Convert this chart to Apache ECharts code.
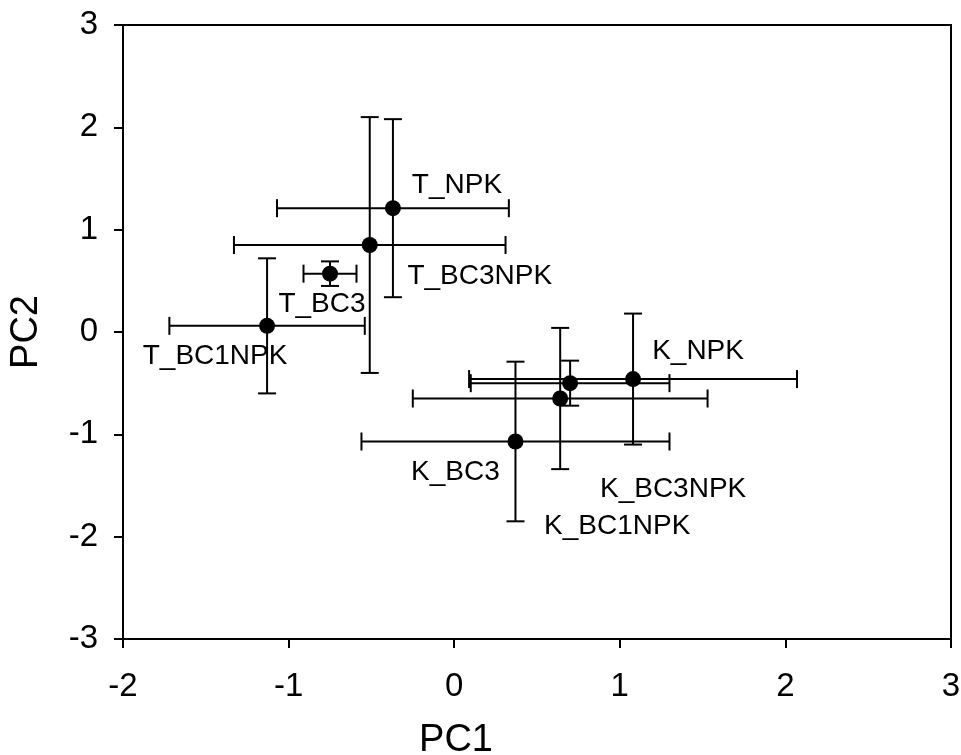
<!DOCTYPE html>
<html>
<head>
<meta charset="utf-8">
<script src="https://cdn.jsdelivr.net/npm/echarts@6/dist/echarts.min.js"></script>
<style>
  html, body { margin: 0; padding: 0; background: #fff; }
  #chart { width: 961px; height: 755px; }
</style>
</head>
<body>
<div id="chart"></div>
<script>
// treatment names
const names = ["T_NPK", "T_BC3NPK", "T_BC3", "T_BC1NPK", "K_NPK", "K_BC3NPK", "K_BC1NPK", "K_BC3"];
// means
const pc1 = [-0.37, -0.51, -0.75, -1.13, 1.08, 0.70, 0.64, 0.37];
const pc2 = [1.21, 0.85, 0.57, 0.06, -0.46, -0.50, -0.65, -1.07];
// error (+/-)
const pc1Err = [0.70, 0.82, 0.16, 0.59, 0.99, 0.60, 0.89, 0.93];
const pc2Err = [0.87, 1.25, 0.12, 0.66, 0.64, 0.22, 0.69, 0.78];
// axis ticks
const xTicks = [-2, -1, 0, 1, 2, 3];
const yTicks = [-3, -2, -1, 0, 1, 2, 3];

// label offsets (px, from point centre)
const labelOffsets = [[64, -23], [110, 31], [-8, 31], [-52, 30], [65, -28], [103, 106], [57, 128], [-60, 31]];

const font = "'Liberation Sans', Arial, sans-serif";
const chart = echarts.init(document.getElementById("chart"));

const errData = names.map((n, i) => [pc1[i], pc2[i], pc1Err[i], pc2Err[i]]);
const ptData = names.map((n, i) => ({ value: [pc1[i], pc2[i]], name: n }));

function renderErr(params, api) {
  const x = api.value(0), y = api.value(1), ex = api.value(2), ey = api.value(3);
  const l = api.coord([x - ex, y]);
  const r = api.coord([x + ex, y]);
  const t = api.coord([x, y + ey]);
  const b = api.coord([x, y - ey]);
  const c = 9; // cap half size
  const st = { stroke: "#000", lineWidth: 2 };
  const line = (x1, y1, x2, y2) => ({ type: "line", shape: { x1, y1, x2, y2 }, style: st });
  return {
    type: "group",
    children: [
      line(l[0], l[1], r[0], r[1]),
      line(l[0], l[1] - c, l[0], l[1] + c),
      line(r[0], r[1] - c, r[0], r[1] + c),
      line(t[0], t[1], b[0], b[1]),
      line(t[0] - c, t[1], t[0] + c, t[1]),
      line(b[0] - c, b[1], b[0] + c, b[1]),
    ],
  };
}

const option = {
  animation: false,
  grid: {
    left: 123, right: 10, top: 25, bottom: 116,
    outerBoundsMode: "none",
    containLabel: false,
    show: true, borderColor: "#000", borderWidth: 2,
  },
  xAxis: {
    type: "value", min: -2, max: 3, interval: 1,
    name: "PC1", nameLocation: "middle", nameGap: 83,
    // title sits left of the axis centre in the original
    nameTextStyle: { fontFamily: font, fontSize: 38, color: "#000", padding: [0, 162, 0, 0] },
    axisLine: { onZero: false, lineStyle: { color: "#000", width: 2 } },
    axisTick: { show: true, length: 9, lineStyle: { color: "#000", width: 2 } },
    axisLabel: {
      fontFamily: font, fontSize: 33, color: "#000", margin: 31,
      formatter: (v) => (xTicks.includes(v) ? String(v) : ""),
    },
    splitLine: { show: false },
  },
  yAxis: {
    type: "value", min: -3, max: 3, interval: 1,
    name: "PC2", nameLocation: "middle", nameGap: 77,
    nameTextStyle: { fontFamily: font, fontSize: 38, color: "#000" },
    axisLine: { onZero: false, lineStyle: { color: "#000", width: 2 } },
    axisTick: { show: true, length: 9, lineStyle: { color: "#000", width: 2 } },
    axisLabel: {
      fontFamily: font, fontSize: 33, color: "#000", margin: 25,
      formatter: (v) => (yTicks.includes(v) ? String(v) : ""),
    },
    splitLine: { show: false },
  },
  series: [
    {
      type: "custom",
      renderItem: renderErr,
      data: errData,
      z: 2,
      silent: true,
    },
    {
      type: "scatter",
      data: ptData,
      symbol: "circle",
      symbolSize: 16,
      itemStyle: { color: "#000", opacity: 1 },
      z: 3,
      label: {
        show: true,
        position: "top",
        formatter: (p) => p.name,
        fontFamily: font,
        fontSize: 28,
        color: "#000",
        textBorderWidth: 0,
      },
      labelLayout: (p) => {
        const o = labelOffsets[p.dataIndex];
        return {
          x: p.rect.x + p.rect.width / 2 + o[0],
          y: p.rect.y + p.rect.height / 2 + o[1],
          align: "center",
          verticalAlign: "middle",
          hideOverlap: false,
        };
      },
    },
  ],
};
chart.setOption(option);
</script>
</body>
</html>
